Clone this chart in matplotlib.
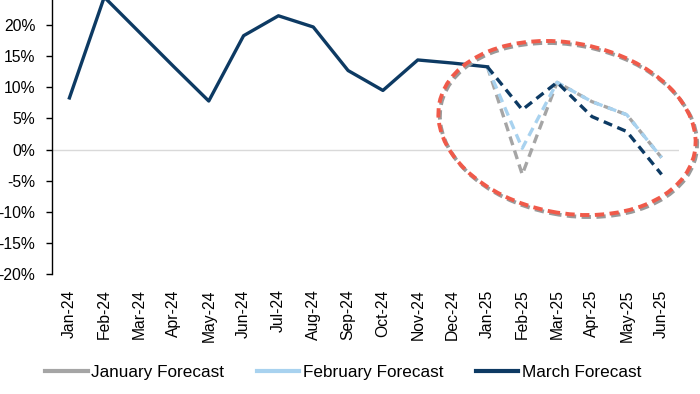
import matplotlib
matplotlib.use('Agg')
import matplotlib.pyplot as plt
from matplotlib.patches import Ellipse
from matplotlib.transforms import IdentityTransform
from matplotlib.ticker import FuncFormatter

plt.rcParams['font.family'] = ['Liberation Sans', 'DejaVu Sans']

months = ['Jan-24', 'Feb-24', 'Mar-24', 'Apr-24', 'May-24', 'Jun-24',
          'Jul-24', 'Aug-24', 'Sep-24', 'Oct-24', 'Nov-24', 'Dec-24',
          'Jan-25', 'Feb-25', 'Mar-25', 'Apr-25', 'May-25', 'Jun-25']
actual = [8.3, 24.5, 18.9, 13.3, 7.8, 18.3, 21.5, 19.7, 12.7, 9.5, 14.4, 13.9, 13.3]
# forecasts start at Jan-25
jan_forecast = [13.3, -4.0, 10.8, 7.7, 5.6, -1.3]
feb_forecast = [13.3, 0.2, 10.8, 7.7, 5.6, -1.3]
mar_forecast = [13.3, 6.4, 10.8, 5.3, 2.9, -4.0]
y_ticks = [-20, -15, -10, -5, 0, 5, 10, 15, 20, 25]

navy = '#0d3a63'
light_blue = '#a8d2ef'
grey = '#a5a5a5'

fig = plt.figure(figsize=(7, 3.94), dpi=100)
ax = fig.add_axes([0.0743, 0.3046, 0.8957, 0.7106])

x_act = list(range(len(actual)))
x_fc = list(range(len(actual) - 1, len(months)))
dash = (0, (2.7, 1.7))

ax.axhline(0, color='#d9d9d9', lw=1, zorder=1)
ax.plot(x_fc, jan_forecast, color=grey, lw=2.4, ls=dash, zorder=2)
ax.plot(x_fc, feb_forecast, color=light_blue, lw=2.4, ls=dash, zorder=3)
ax.plot(x_fc, mar_forecast, color=navy, lw=2.4, ls=dash, zorder=4)
ax.plot(x_act, actual, color=navy, lw=2.4, zorder=5)

ax.set_xlim(-0.5, len(months) - 0.5)
ax.set_ylim(-20, 25)
ax.set_xticks(range(len(months)))
ax.set_xticklabels(months, rotation=90, fontsize=11.3)
ax.set_yticks(y_ticks)
ax.yaxis.set_major_formatter(FuncFormatter(lambda v, p: f'{v:.0f}%'))
ax.tick_params(axis='y', labelsize=11.3, length=4, width=1, pad=8, direction='out')
ax.tick_params(axis='x', length=0, pad=11)
for s in ['top', 'right', 'bottom']:
    ax.spines[s].set_visible(False)
ax.spines['left'].set_linewidth(1)

# highlight ellipse (pixel coords) with a soft shadow
for off, col in [((1.5, -2), '#9a9a9a'), ((0, 0), '#f05a4a')]:
    e = Ellipse((567 + off[0], 394 - 128 + off[1]), 260, 170, angle=-11,
                fill=False, edgecolor=col, lw=2.8, ls=(0, (2.4, 1.4)),
                transform=IdentityTransform())
    fig.add_artist(e)

handles = [plt.Line2D([], [], color=c, lw=3) for c in (grey, light_blue, navy)]
fig.legend(handles, ['January Forecast', 'February Forecast', 'March Forecast'],
           loc='center', bbox_to_anchor=(0.49, 0.055), ncol=3, frameon=False,
           fontsize=12.3, handlelength=2.5, handletextpad=0.2, columnspacing=1.9)

fig.savefig('out.png', dpi=100)
